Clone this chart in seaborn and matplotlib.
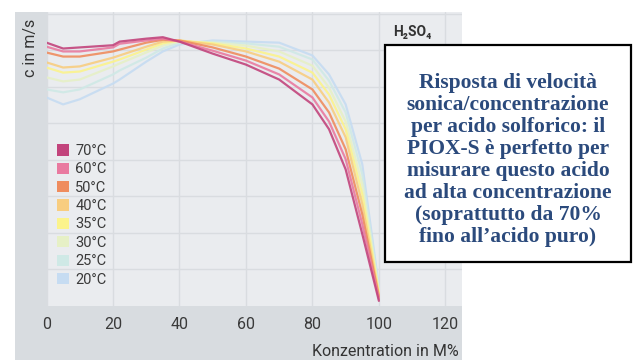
import pandas as pd
import matplotlib
matplotlib.use("Agg")
import matplotlib.pyplot as plt
import seaborn as sns
from matplotlib.patches import Rectangle, Patch

# concentration in M% and sonic velocity c (m/s)
conc = [0, 5, 10, 20, 22, 30, 35, 40, 50, 60, 70, 80, 85, 90, 95, 100]

c_70 = [1721, 1705, 1708, 1714, 1724, 1732, 1736, 1724, 1691, 1661, 1620, 1552, 1484, 1374, 1197, 1014]
c_60 = [1710, 1697, 1697, 1708, 1718, 1727, 1732, 1724, 1699, 1672, 1634, 1571, 1505, 1402, 1224, 1019]
c_50 = [1694, 1683, 1683, 1697, 1702, 1721, 1729, 1727, 1708, 1683, 1650, 1593, 1530, 1429, 1251, 1025]
c_40 = [1667, 1653, 1656, 1680, 1686, 1710, 1724, 1727, 1716, 1697, 1669, 1620, 1557, 1462, 1279, 1030]
c_35 = [1653, 1639, 1642, 1669, 1675, 1702, 1719, 1727, 1719, 1705, 1683, 1639, 1579, 1484, 1306, 1036]
c_30 = [1626, 1615, 1620, 1656, 1664, 1694, 1713, 1724, 1721, 1713, 1697, 1658, 1598, 1505, 1333, 1041]
c_25 = [1593, 1585, 1593, 1634, 1645, 1680, 1705, 1721, 1724, 1719, 1710, 1675, 1617, 1530, 1361, 1046]
c_20 = [1571, 1552, 1566, 1609, 1620, 1669, 1697, 1716, 1727, 1724, 1721, 1686, 1634, 1552, 1388, 1052]

temps = ["20°C", "25°C", "30°C", "35°C", "40°C", "50°C", "60°C", "70°C"]
series = [c_20, c_25, c_30, c_35, c_40, c_50, c_60, c_70]
colors = ["#c6dcf2", "#cfe9e6", "#e6f0c6", "#fbf38c", "#f8cd80", "#ef8c5e", "#e97aa0", "#c2447c"]

x_ticks = [0, 20, 40, 60, 80, 100, 120]

note = ("Risposta di velocità\nsonica/concentrazione\nper acido solforico: il\n"
        "PIOX-S è perfetto per\nmisurare questo acido\nad alta concentrazione\n"
        "(soprattutto da 70%\nfino all’acido puro)")

rows = []
for t, vals in zip(temps, series):
    for x, v in zip(conc, vals):
        rows.append({"conc": x, "c": v, "temp": t})
df = pd.DataFrame(rows)

sns.set_style("white")
plt.rcParams["font.family"] = ["Roboto", "DejaVu Sans"]

fig = plt.figure(figsize=(6.33, 3.6), dpi=100)
W, H = 633, 360

# outer grey panel
fig.patches.append(Rectangle((15 / W, 0), 447 / W, 348 / H,
                             transform=fig.transFigure, facecolor="#d8dce0",
                             edgecolor="none", zorder=-1))

ax = fig.add_axes([46.5 / W, (H - 306) / H, 415.5 / W, 294 / H])
ax.set_facecolor("#eaecef")

sns.lineplot(
    data=df,
    x="conc",
    y="c",
    hue="temp",
    hue_order=temps,
    palette=dict(zip(temps, colors)),
    linewidth=1.6,
    alpha=0.9,
    legend=False,
    ax=ax
)

ax.set_xlim(0, 125)
ax.set_ylim(1000, 1805)
ax.set_xticks(x_ticks)
ax.set_yticks(range(1100, 1900, 100))
ax.grid(True, color="#d9dce0", linewidth=1.0)
ax.set_axisbelow(True)
ax.tick_params(axis="x", length=0, pad=8, labelsize=11.5, labelcolor="#3a3a3a")
ax.tick_params(axis="y", length=0, labelleft=False)
for s in ax.spines.values():
    s.set_visible(False)
ax.set_xlabel("")
ax.set_ylabel("")

fig.text(459 / W, 1 - 352 / H, "Konzentration in M%", ha="right", va="center",
         fontsize=11.5, color="#333333")
fig.text(31 / W, 1 - 48 / H, "c in m/s", rotation=90, ha="center", va="center",
         fontsize=11.5, color="#333333")
fig.text(412 / W, 1 - 32 / H, "H₂SO₄", ha="center", va="center",
         fontsize=10, fontweight="bold", color="#333333")

handles = [Patch(facecolor=col, edgecolor="none", label=t)
           for t, col in zip(temps[::-1], colors[::-1])]
leg = fig.legend(handles=handles, loc="upper left",
                 bbox_to_anchor=(57 / W, 1 - 144 / H),
                 frameon=False, fontsize=10.5, handlelength=0.8, handleheight=0.8,
                 handletextpad=0.45, labelspacing=0.3, borderpad=0, borderaxespad=0)
for txt in leg.get_texts():
    txt.set_color("#3a3a3a")

# note box
fig.patches.append(Rectangle((385 / W, (H - 262) / H), 246 / W, 217 / H,
                             transform=fig.transFigure, facecolor="white",
                             edgecolor="black", linewidth=1.6, zorder=3))
fig.text(508 / W, 1 - 160 / H, note, ha="center", va="center",
         family=["Liberation Serif", "DejaVu Serif"], fontweight="bold",
         fontsize=15.5, color="#2b4a7c", linespacing=1.14, zorder=4)

fig.savefig("out.png", dpi=100)
